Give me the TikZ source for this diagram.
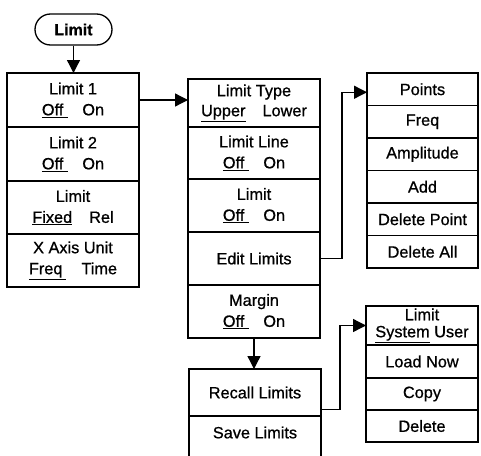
\documentclass[tikz,border=0pt]{standalone}
\usepackage{fontspec}
\setmainfont[FakeBold=0.8]{Liberation Sans}
\usetikzlibrary{arrows.meta,shapes.misc,calc}
\begin{document}
\begin{tikzpicture}[x=1pt,y=-1pt,
  cell/.style={draw, line width=1.3pt, rectangle, anchor=north west, inner sep=0pt, outer sep=0pt, align=center, font=\fontsize{16.3}{21}\selectfont},
  conn/.style={line width=1.3pt, -{Triangle[length=13pt,width=13pt]}},
  plain/.style={line width=1.3pt}]
\useasboundingbox (0,0) rectangle (481,455);
% top oval
\node[draw, line width=1.3pt, rounded rectangle, minimum width=77pt, minimum height=31pt, inner sep=0pt, font=\bfseries\fontsize{16}{18}\selectfont] (limit) at (73.5,29.5) {Limit};
% column 1
\node[cell, minimum width=132pt, minimum height=54pt] (a1) at (7,73) {Limit 1\\\underline{Off\hspace{5pt}}\hspace{14pt}On};
\node[cell, minimum width=132pt, minimum height=54pt] (a2) at (7,127) {Limit 2\\\underline{Off\hspace{5pt}}\hspace{14pt}On};
\node[cell, minimum width=132pt, minimum height=53pt] (a3) at (7,181) {Limit\\\underline{Fixed}\hspace{17pt}Rel};
\node[cell, minimum width=132pt, minimum height=53pt] (a4) at (7,234) {X Axis Unit\\\underline{Freq\hspace{4pt}}\hspace{15pt}Time};
% column 2
\node[cell, minimum width=132pt, minimum height=48pt] (b1) at (188,79) {Limit Type\\[-1pt]\underline{Upper}\hspace{17pt}Lower};
\node[cell, minimum width=132pt, minimum height=52pt] (b2) at (188,127) {Limit Line\\\underline{Off\hspace{5pt}}\hspace{14pt}On};
\node[cell, minimum width=132pt, minimum height=53pt] (b3) at (188,179) {Limit\\\underline{Off\hspace{5pt}}\hspace{14pt}On};
\node[cell, minimum width=132pt, minimum height=53pt] (b4) at (188,232) {Edit Limits};
\node[cell, minimum width=132pt, minimum height=53pt] (b5) at (188,285) {Margin\\\underline{Off\hspace{5pt}}\hspace{14pt}On};
% column 3
\node[cell, minimum width=111pt, minimum height=32.5pt] (c1) at (367,73) {Points};
\node[cell, minimum width=111pt, minimum height=32.5pt] (c2) at (367,105.5) {Freq};
\node[cell, minimum width=111pt, minimum height=32.5pt] (c3) at (367,138) {Amplitude};
\node[cell, minimum width=111pt, minimum height=32.5pt] (c4) at (367,170.5) {Add};
\node[cell, minimum width=111pt, minimum height=32.5pt] (c5) at (367,203) {Delete Point};
\node[cell, minimum width=111pt, minimum height=32.5pt] (c6) at (367,235.5) {Delete All};
% column 4
\node[cell, minimum width=132pt, minimum height=47pt] (d1) at (189,369) {Recall Limits};
\node[cell, draw=none, minimum width=132pt, minimum height=33pt] (d2) at (189,416) {Save Limits};
\draw[plain] (d2.north west) -- (d2.north west |- 0,457);
\draw[plain] (d2.north east) -- (d2.north east |- 0,457);
% column 5
\node[cell, minimum width=112pt, minimum height=39pt, font=\fontsize{16.3}{17}\selectfont] (e1) at (366,306) {\raisebox{3pt}{\begin{tabular}{@{}c@{}}Limit\\\underline{System} User\end{tabular}}};
\node[cell, minimum width=112pt, minimum height=33pt] (e2) at (366,345) {Load Now};
\node[cell, minimum width=112pt, minimum height=32pt] (e3) at (366,378) {Copy};
\node[cell, minimum width=112pt, minimum height=32pt] (e4) at (366,410) {Delete};
% connectors
\draw[conn] (limit.south) -- (limit.south |- a1.north);
\draw[conn] (a1.east) -- (a1.east -| b1.west);
\draw[conn] (b4.east) -- ++(22,0) |- ([yshift=-3pt]c1.west);
\draw[conn] (b5.south) -- (b5.south |- d1.north);
\draw[conn] ([yshift=-17pt]d1.east) -- ++(19,0) |- (e1.west);
\end{tikzpicture}
\end{document}
